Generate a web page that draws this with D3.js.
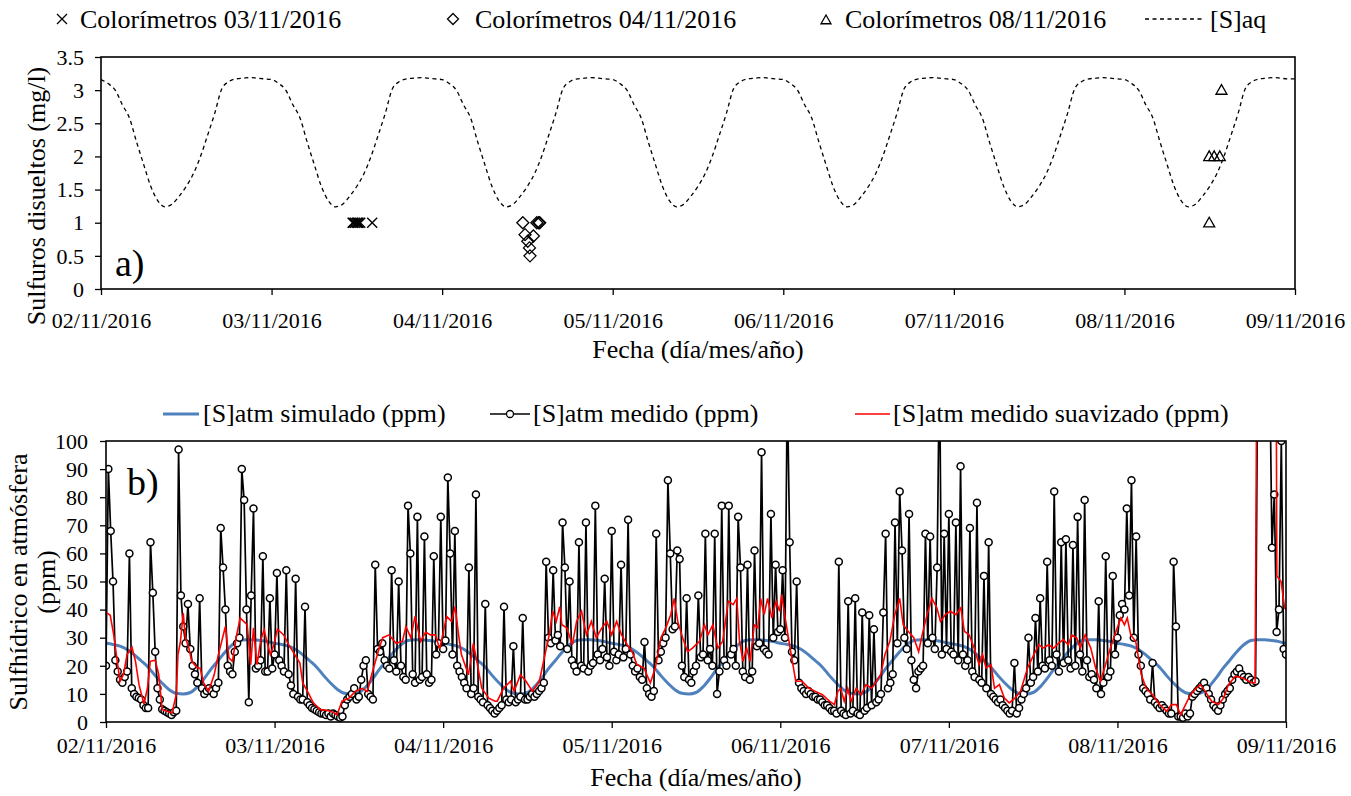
<!DOCTYPE html>
<html><head><meta charset="utf-8">
<script src="https://cdn.jsdelivr.net/npm/d3@7"></script>
<style>
body{margin:0;background:#fff}
text{font-family:"Liberation Serif","Times New Roman",serif;fill:#000}
</style>
</head><body>
<svg id="c" width="1351" height="796"></svg>
<script>
// ---------- DATA ----------
const dayLabels = ["02/11/2016","03/11/2016","04/11/2016","05/11/2016","06/11/2016","07/11/2016","08/11/2016","09/11/2016"];
const yTicksA = [0,0.5,1,1.5,2,2.5,3,3.5];
const yTicksB = [0,10,20,30,40,50,60,70,80,90,100];

// [S]aq, hourly from 02/11 00:00 (mg/l)
const aqHourly = [
3.16,3.10,3.00,2.78,2.58,2.22,1.88,1.55,1.33,1.24,1.28,1.40,1.55,1.74,2.00,2.32,2.65,3.02,3.13,3.17,3.18,3.19,3.18,3.17,
3.16,3.10,3.00,2.78,2.58,2.22,1.88,1.55,1.33,1.24,1.28,1.40,1.55,1.74,2.00,2.32,2.65,3.02,3.13,3.17,3.18,3.19,3.18,3.17,
3.16,3.10,3.00,2.78,2.58,2.22,1.88,1.55,1.33,1.24,1.28,1.40,1.55,1.74,2.00,2.32,2.65,3.02,3.13,3.17,3.18,3.19,3.18,3.17,
3.16,3.10,3.00,2.78,2.58,2.22,1.88,1.55,1.33,1.24,1.28,1.40,1.55,1.74,2.00,2.32,2.65,3.02,3.13,3.17,3.18,3.19,3.18,3.17,
3.16,3.10,3.00,2.78,2.58,2.22,1.88,1.55,1.33,1.24,1.28,1.40,1.55,1.74,2.00,2.32,2.65,3.02,3.13,3.17,3.18,3.19,3.18,3.17,
3.16,3.10,3.00,2.78,2.58,2.22,1.88,1.55,1.33,1.24,1.28,1.40,1.55,1.74,2.00,2.32,2.65,3.02,3.13,3.17,3.18,3.19,3.18,3.17,
3.16,3.10,3.00,2.78,2.58,2.22,1.88,1.55,1.33,1.24,1.28,1.40,1.55,1.74,2.00,2.32,2.65,3.02,3.13,3.17,3.18,3.19,3.18,3.17,
3.17];

// Colorimeters: time in days from 02/11 00:00, value mg/l
const colo03Day = [1.475,1.48,1.49,1.50,1.505,1.51,1.52,1.59];
const colo03Val = [1,1,1,1,1,1,1,1];
const colo04Day = [2.473,2.486,2.535,2.502,2.512,2.515,2.555,2.566,2.572];
const colo04Val = [1.0,0.82,0.80,0.72,0.62,0.5,1.0,1.0,1.0];
const colo08Day = [6.569,6.497,6.526,6.559,6.497];
const colo08Val = [3.0,2.0,2.0,2.0,1.0];

// [S]atm simulado, hourly (ppm)
const simHourly = [
28.0,27.6,27.0,25.8,24.0,21.8,19.5,16.5,13.8,11.5,10.2,10.0,10.5,12.5,15.5,19.0,22.0,25.0,27.5,29.0,29.3,29.3,29.0,28.6,
28.0,27.6,27.0,25.8,24.0,21.8,19.5,16.5,13.8,11.5,10.2,10.0,10.5,12.5,15.5,19.0,22.0,25.0,27.5,29.0,29.3,29.3,29.0,28.6,
28.0,27.6,27.0,25.8,24.0,21.8,19.5,16.5,13.8,11.5,10.2,10.0,10.5,12.5,15.5,19.0,22.0,25.0,27.5,29.0,29.3,29.3,29.0,28.6,
28.0,27.6,27.0,25.8,24.0,21.8,19.5,16.5,13.8,11.5,10.2,10.0,10.5,12.5,15.5,19.0,22.0,25.0,27.5,29.0,29.3,29.3,29.0,28.6,
28.0,27.6,27.0,25.8,24.0,21.8,19.5,16.5,13.8,11.5,10.2,10.0,10.5,12.5,15.5,19.0,22.0,25.0,27.5,29.0,29.3,29.3,29.0,28.6,
28.0,27.6,27.0,25.8,24.0,21.8,19.5,16.5,13.8,11.5,10.2,10.0,10.5,12.5,15.5,19.0,22.0,25.0,27.5,29.0,29.3,29.3,29.0,28.6,
28.0,27.6,27.0,25.8,24.0,21.8,19.5,16.5,13.8,11.5,10.2,10.0,10.5,12.5,15.5,19.0,22.0,25.0,27.5,29.0,29.3,29.3,29.0,28.6,
28.0];

// [S]atm medido, every 20 min (ppm)
const measured = [
20,90,68, 50,22,18, 15,14,16, 18,60,12, 10,9,8.5, 8,6,5, 5,64,46, 25,12,8, 4.5,4,3.5, 3,2.5,3.5, 4,97,45, 34,28,42,
26,20,17, 14,44,12, 10,11,12, 11,10,12, 14,69,55, 40,20,18, 17,25,28, 30,90,79, 40,7,45, 76,19,20, 22,59,18, 18,44,19,
24,53,22, 20,18,54, 17,13,10, 51,9,8, 8,41,7, 6,5,4.5, 4,3.5,3, 3,2.5,3, 2,3,2.5, 2,1.5,2, 6,8,9, 10,12,8,
9,15,20, 22,10,9, 8,56,26, 25,28,22, 20,19,54, 22,18,50, 20,16,15, 77,60,17, 14,73,15, 16,66,17, 14,15,59, 24,28,73,
26,29,87, 60,24,68, 20,18,16, 14,12,55, 10,12,81, 9,8,7, 42,6,5, 4,3,4, 5,6,41, 8,7,8, 27,7,8, 9,37,8,
8,9,10, 9,10,11, 12,14,57, 30,28,54, 29,31,27, 71,55,26, 50,22,20, 18,64,20, 19,71,18, 20,21,77, 24,22,26, 51,23,20,
68,25,22, 24,56,23, 26,72,24, 20,18,19, 16,15,28.5, 12,10,9, 11,67,22, 25,28,30, 86,60,33, 34,61,58, 20,16,44, 15,14,18,
20,45,23, 24,67,22, 26,20,67, 10,18,77, 22,20,77, 24,26,20, 73,55,18, 16,56,15, 18,61,27, 28,96,26, 25,24,74, 30,56,32,
33,54,30, 120,64,25, 22,50,14, 12,11,10, 11,10,9, 9,8,8, 7,6,6, 5,4,4, 3,57,4, 3,2.5,43, 3,4,44, 3,2.5,39,
4,5,38, 6,33,7, 8,10,39, 67,12,14, 17,71,28, 82,61,30, 26,74,22, 15,12,18, 19,20,67, 28,66,30, 26,55,130, 24,67,26,
74,25,24, 71,22,91, 24,20,22, 69,18,16, 78,15,14, 52,12,64, 10,9,8, 7,8,6, 5,4,3, 4,21,3, 5,8,10, 12,30,14,
16,37,18, 44,20,19, 57,22,20, 82,24,18, 64,21,65, 22,19,63, 20,73,24, 18,79,22, 16,17,15, 12,43,10, 14,59,16, 18,52,24,
30,38,42, 40,76,45, 86,30,66, 24,20,12, 11,10,8, 21,7,6, 5,6,5, 4,3,3, 57,34,2, 2,1.5,3, 2,3,9, 10,11,12,
13,14,12, 10,8,6, 5,4,6, 8,10,11, 12,15,17, 18,19,17, 16,15,16, 15,14,14.5, 140,160,150, 170,150,130, 62,81,32, 40,100,26,
24];

// [S]atm medido suavizado: hours from 02/11 00:00 and values (ppm)
const smoothHour = [
0,0.6,1.1,1.6,2.0,2.5,3.0,3.7,4.2,4.7,5.4,5.9,6.3,7.0,7.5,8.0,8.7,9.4,10.0,10.25,10.6,11.0,11.3,11.8,12.2,13.0,13.4,13.9,14.6,15.4,16.0,17.0,17.5,18.0,18.6,19.1,19.6,20.1,20.6,21.0,21.5,22.0,22.5,22.9,23.4,23.9,
24.4,25.3,26.0,26.7,27.6,28.0,28.8,29.5,30.5,31.3,32.0,32.9,33.6,34.6,35.5,36.5,37.2,37.9,38.9,39.4,40.3,41.3,42.2,42.7,43.4,44.0,44.8,45.5,46.2,46.9,47.5,
48.5,49.2,49.7,50.2,50.6,51.6,52.3,52.8,53.5,54.5,55.4,55.7,56.6,57.6,58.1,59.0,59.8,60.7,61.7,62.4,63.1,63.6,64.1,64.6,64.9,65.6,66.4,67.0,67.7,68.4,69.1,69.8,70.6,71.3,
72.0,72.7,73.4,74.2,74.9,75.6,76.6,77.5,78.2,79.0,79.7,80.4,80.9,81.4,82.1,82.8,83.5,84.5,85.2,85.7,86.4,87.1,87.8,88.6,89.3,89.8,90.2,90.7,91.2,91.7,92.3,92.8,93.2,93.7,94.2,94.8,95.4,95.9,
96.2,96.7,97.4,98.2,99.1,100.1,101.0,102.0,103.0,103.7,104.2,104.6,105.1,105.6,106.1,106.8,107.5,108.2,109.0,109.7,110.3,110.9,111.6,112.3,113.0,113.5,114.2,115.0,115.7,116.2,116.9,117.6,118.3,118.8,119.5,
120.2,121.0,121.7,122.2,122.9,123.6,124.3,124.8,125.3,126.0,126.5,127.2,127.9,128.6,129.4,130.2,131.2,132.1,132.8,133.4,134.2,134.9,135.6,136.3,137.0,137.5,138.2,138.7,139.4,140.2,140.9,141.6,142.3,143.0,143.8,
144.5,145.0,145.4,145.9,146.6,147.4,148.1,149.0,150.0,151.0,151.7,152.4,153.0,153.7,154.4,155.2,155.8,156.5,157.4,158.4,159.1,159.8,160.8,161.8,162.7,163.2,163.6,164.0,166.5,166.7,167.3,167.8,168];
const smoothVal = [
39,38,31,21.6,14.5,17,24,26.6,21.6,13.3,6.4,12,21.6,22,17,4.4,3.8,3.2,9.7,24,28.7,38.8,30,26.3,21.6,19.2,19.2,13.9,10.9,16.8,24,34,22.8,21.6,31,37,35.8,34.6,20.4,33.5,20.4,28.7,32.9,28.7,24,27.5,
33,31,27.5,24.7,21,14,10.4,6.9,4.4,4.2,3.8,2.6,7.4,8.5,10.9,12,10.9,17.5,26.3,30,31,28,28.7,34,30,37.6,28.7,32,31,31,26,
37.6,35.8,41,31,24,16.8,28,21.6,12,8.5,7.4,7.4,12,14.5,10.9,16.8,14.5,10.9,14.5,22.8,31,39.4,35.8,41,34.6,33.5,27.5,35.8,39.4,31,35.8,30,33.5,35.8,
31,35.8,31,27.5,25,20.4,19.2,13.9,19.2,30,33.5,38.2,44,35.8,30,25,26.3,28.7,34.6,31,34.6,26.3,28.7,43,41.8,44,28.7,21.6,26.3,21.6,34.6,33.5,44,38.2,44,37,43,39.4,
45.3,37,26.3,14.5,14.5,12,10.9,9.7,7.4,6.2,10.9,12,7.4,12,7.4,12,9.7,13.3,12,14.5,16.8,24,28.7,38.2,44,34.6,32.3,30,25,31,38.2,44,40.6,35.8,38.2,
39.4,38.2,40.6,32.3,31,26.3,20.4,24,19.2,20.4,12,13.3,8.5,6.8,8.5,10.9,19.2,24,27.5,26.3,27.5,26.3,28,29.3,27.5,31,30,26.3,31,26.3,19.2,14.5,20.4,26.3,32.3,
37,34.6,37,31,28.7,16.8,12,9.7,6.2,3.8,6.2,6.2,2.6,6.2,9.7,12,13.3,10.9,7.4,6.2,8.5,13.3,16.3,15.7,14.5,13.9,14,200,200,52,50,40.6,40];

// ---------- DRAW ----------
const svg = d3.select("#c");
const FONT = '"Liberation Serif","Times New Roman",serif';

function crossPath(s){return `M${-s},${-s}L${s},${s}M${-s},${s}L${s},${-s}`;}
function diamondPath(s){return `M0,${-s}L${s},0L0,${s}L${-s},0Z`;}
function trianglePath(s){return `M0,${-s}L${s},${s*0.75}L${-s},${s*0.75}Z`;}

// ===== Panel a =====
const xa = d3.scaleLinear().domain([0,168]).range([101,1295]);
const ya = d3.scaleLinear().domain([0,3.5]).range([289,57]);
const ga = svg.append("g");

const axA = ga.append("g").attr("transform","translate(0,289)")
  .call(d3.axisBottom(xa).tickValues(d3.range(0,169,24)).tickFormat((d,i)=>dayLabels[i]).tickSize(6).tickSizeOuter(0));
axA.select(".domain").remove();
axA.selectAll("line").attr("stroke","#000").attr("stroke-width",1.3);
axA.selectAll("text").attr("font-family",FONT).attr("font-size",22).attr("dy",null).attr("y",39);
const ayA = ga.append("g").attr("transform","translate(101,0)")
  .call(d3.axisLeft(ya).tickValues(yTicksA).tickFormat(d=>String(d)).tickSize(6).tickSizeOuter(0));
ayA.select(".domain").remove();
ayA.selectAll("line").attr("stroke","#000").attr("stroke-width",1.3);
ayA.selectAll("text").attr("font-family",FONT).attr("font-size",22).attr("x",-17).attr("dy","0.33em");
ga.append("rect").attr("x",101).attr("y",57).attr("width",1295-101).attr("height",289-57)
  .attr("fill","none").attr("stroke","#000").attr("stroke-width",1.6);

ga.append("path").datum(aqHourly)
  .attr("d", d3.line().x((d,i)=>xa(i)).y(d=>ya(d)).curve(d3.curveMonotoneX))
  .attr("fill","none").attr("stroke","#000").attr("stroke-width",1.3).attr("stroke-dasharray","4,3.5");

ga.selectAll(".c03").data(colo03Day).enter().append("path")
  .attr("transform",(d,i)=>`translate(${xa(d*24)},${ya(colo03Val[i])})`)
  .attr("d",crossPath(5)).attr("stroke","#000").attr("stroke-width",1.4).attr("fill","none");
ga.selectAll(".c04").data(colo04Day).enter().append("path")
  .attr("transform",(d,i)=>`translate(${xa(d*24)},${ya(colo04Val[i])})`)
  .attr("d",diamondPath(6)).attr("stroke","#000").attr("stroke-width",1.3).attr("fill","none");
ga.selectAll(".c08").data(colo08Day).enter().append("path")
  .attr("transform",(d,i)=>`translate(${xa(d*24)},${ya(colo08Val[i])})`)
  .attr("d",trianglePath(5.5)).attr("stroke","#000").attr("stroke-width",1.3).attr("fill","none");

ga.append("text").attr("x",115).attr("y",276).attr("font-size",38).attr("font-family",FONT).text("a)");

ga.append("text").attr("transform","translate(45,196) rotate(-90)").attr("text-anchor","middle")
  .attr("font-size",26).attr("font-family",FONT).text("Sulfuros disueltos (mg/l)");
ga.append("text").attr("x",698).attr("y",358).attr("text-anchor","middle")
  .attr("font-size",26).attr("font-family",FONT).text("Fecha (día/mes/año)");

const legA = ga.append("g");
legA.append("path").attr("transform","translate(62,19)").attr("d",crossPath(5)).attr("stroke","#000").attr("stroke-width",1.3).attr("fill","none");
legA.append("text").attr("x",80).attr("y",28).attr("font-size",26).attr("font-family",FONT).text("Colorímetros 03/11/2016");
legA.append("path").attr("transform","translate(453,19)").attr("d",diamondPath(5.5)).attr("stroke","#000").attr("stroke-width",1.3).attr("fill","none");
legA.append("text").attr("x",475).attr("y",28).attr("font-size",26).attr("font-family",FONT).text("Colorímetros 04/11/2016");
legA.append("path").attr("transform","translate(826,20)").attr("d",trianglePath(5)).attr("stroke","#000").attr("stroke-width",1.3).attr("fill","none");
legA.append("text").attr("x",845).attr("y",28).attr("font-size",26).attr("font-family",FONT).text("Colorímetros 08/11/2016");
legA.append("line").attr("x1",1145).attr("x2",1203).attr("y1",19).attr("y2",19).attr("stroke","#000").attr("stroke-width",1.3).attr("stroke-dasharray","4,3.5");
legA.append("text").attr("x",1210).attr("y",28).attr("font-size",26).attr("font-family",FONT).text("[S]aq");

// ===== Panel b =====
const xb = d3.scaleLinear().domain([0,168]).range([106,1286]);
const yb = d3.scaleLinear().domain([0,100]).range([722,441]);
const gb = svg.append("g");

svg.append("defs").append("clipPath").attr("id","clipB").append("rect")
  .attr("x",106).attr("y",441).attr("width",1286-106).attr("height",722-441);

const axB = gb.append("g").attr("transform","translate(0,722)")
  .call(d3.axisBottom(xb).tickValues(d3.range(0,169,24)).tickFormat((d,i)=>dayLabels[i]).tickSize(6).tickSizeOuter(0));
axB.select(".domain").remove();
axB.selectAll("line").attr("stroke","#000").attr("stroke-width",1.3);
axB.selectAll("text").attr("font-family",FONT).attr("font-size",22).attr("dy",null).attr("y",31);
const ayB = gb.append("g").attr("transform","translate(106,0)")
  .call(d3.axisLeft(yb).tickValues(yTicksB).tickFormat(d=>String(d)).tickSize(6).tickSizeOuter(0));
ayB.select(".domain").remove();
ayB.selectAll("line").attr("stroke","#000").attr("stroke-width",1.3);
ayB.selectAll("text").attr("font-family",FONT).attr("font-size",22).attr("x",-18).attr("dy","0.33em");

const plotB = gb.append("g").attr("clip-path","url(#clipB)");
plotB.append("path").datum(simHourly)
  .attr("d", d3.line().x((d,i)=>xb(i)).y(d=>yb(d)).curve(d3.curveMonotoneX))
  .attr("fill","none").attr("stroke","#4f81bd").attr("stroke-width",3);
plotB.append("path").datum(measured)
  .attr("d", d3.line().x((d,i)=>xb(i/3)).y(d=>yb(d)))
  .attr("fill","none").attr("stroke","#000").attr("stroke-width",1.7);
plotB.selectAll(".m").data(measured).enter().append("circle")
  .attr("cx",(d,i)=>xb(i/3)).attr("cy",d=>yb(d)).attr("r",3.5)
  .attr("fill","#fff").attr("stroke","#000").attr("stroke-width",1.5);
plotB.append("path").datum(smoothVal)
  .attr("d", d3.line().x((d,i)=>xb(smoothHour[i])).y(d=>yb(d)))
  .attr("fill","none").attr("stroke","#ff0000").attr("stroke-width",1.6);

gb.append("rect").attr("x",106).attr("y",441).attr("width",1286-106).attr("height",722-441)
  .attr("fill","none").attr("stroke","#000").attr("stroke-width",1.6);

gb.append("text").attr("x",127).attr("y",495).attr("font-size",38).attr("font-family",FONT).text("b)");

gb.append("text").attr("transform","translate(27,582) rotate(-90)").attr("text-anchor","middle")
  .attr("font-size",26).attr("font-family",FONT).text("Sulfhídrico en atmósfera");
gb.append("text").attr("transform","translate(55,582) rotate(-90)").attr("text-anchor","middle")
  .attr("font-size",26).attr("font-family",FONT).text("(ppm)");
gb.append("text").attr("x",696).attr("y",786).attr("text-anchor","middle")
  .attr("font-size",26).attr("font-family",FONT).text("Fecha (día/mes/año)");

const legB = gb.append("g");
legB.append("line").attr("x1",163).attr("x2",199).attr("y1",414).attr("y2",414).attr("stroke","#4f81bd").attr("stroke-width",3);
legB.append("text").attr("x",203).attr("y",422).attr("font-size",26).attr("font-family",FONT).text("[S]atm simulado (ppm)");
legB.append("line").attr("x1",490).attr("x2",530).attr("y1",414).attr("y2",414).attr("stroke","#000").attr("stroke-width",1.5);
legB.append("circle").attr("cx",510).attr("cy",414).attr("r",3.5).attr("fill","#fff").attr("stroke","#000").attr("stroke-width",1.3);
legB.append("text").attr("x",533).attr("y",422).attr("font-size",26).attr("font-family",FONT).text("[S]atm medido (ppm)");
legB.append("line").attr("x1",855).attr("x2",890).attr("y1",414).attr("y2",414).attr("stroke","#ff0000").attr("stroke-width",1.5);
legB.append("text").attr("x",893).attr("y",422).attr("font-size",26).attr("font-family",FONT).text("[S]atm medido suavizado (ppm)");
</script>
</body></html>
